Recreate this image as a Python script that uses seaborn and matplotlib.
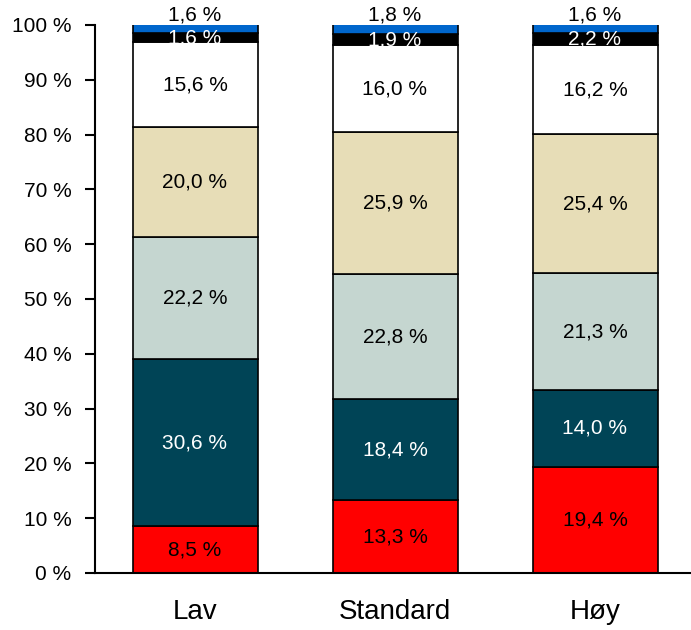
import matplotlib
matplotlib.use('Agg')
import matplotlib.pyplot as plt
import seaborn as sns
import numpy as np

# ── Data (bottom → top) ─────────────────────────────────────────────
categories = ['Lav', 'Standard', 'Høy']
seg_red    = [8.5, 13.3, 19.4]
seg_teal   = [30.6, 18.4, 14.0]
seg_grey   = [22.2, 22.8, 21.3]
seg_beige  = [20.0, 25.9, 25.4]
seg_white  = [15.6, 16.0, 16.2]
seg_black  = [1.6, 1.9, 2.2]
seg_blue   = [1.6, 1.8, 1.6]
y_ticks    = [0, 10, 20, 30, 40, 50, 60, 70, 80, 90, 100]

segments = [seg_red, seg_teal, seg_grey, seg_beige, seg_white, seg_black, seg_blue]
colors   = ['#FF0000', '#004456', '#C5D6D0', '#E7DDB7', '#FFFFFF', '#000000', '#0066CC']
txt_col  = ['black', 'white', 'black', 'black', 'black', 'white', 'black']

sns.set_style('white')
plt.rcParams['font.family'] = ['Liberation Sans', 'DejaVu Sans']
plt.rcParams['text.color'] = 'black'
plt.rcParams['xtick.color'] = 'black'
plt.rcParams['ytick.color'] = 'black'

fig = plt.figure(figsize=(6.91, 6.3), dpi=100)
ax = fig.add_axes([95 / 691, 57 / 630, 600 / 691, 548 / 630])

bottom = np.zeros(len(categories))
for vals, col, tc in zip(segments, colors, txt_col):
    sns.barplot(x=categories, y=vals, bottom=bottom, color=col, width=0.625,
                edgecolor='black', linewidth=1.2, saturation=1, ax=ax)
    for i, v in enumerate(vals):
        lab = f"{v:.1f} %".replace('.', ',')
        if col == '#0066CC':
            ax.text(i, 101.9, lab, ha='center', va='center', fontsize=15, color=tc)
        else:
            ax.text(i, bottom[i] + v / 2, lab, ha='center', va='center', fontsize=15, color=tc)
    bottom += np.array(vals)

ax.set_xlim(-0.5, 2.5)
ax.set_ylim(0, 100)
ax.set_yticks(y_ticks)
ax.set_yticklabels([f"{t} %" for t in y_ticks], fontsize=15)
ax.set_xticks([0, 1, 2])
ax.set_xticklabels(categories, fontsize=20)
ax.set_xticks([-0.5, 0.5, 1.5, 2.5], minor=True)
ax.tick_params(axis='x', which='major', length=0, pad=19)
ax.tick_params(axis='x', which='minor', length=8, width=1.5, color='black', direction='out')
ax.tick_params(axis='y', length=7, width=1.5, color='black', direction='out', left=True, pad=10)
for s in ['top', 'right']:
    ax.spines[s].set_visible(False)
for s in ['left', 'bottom']:
    ax.spines[s].set_color('black')
    ax.spines[s].set_linewidth(1.5)
ax.set_xlabel('')
ax.set_ylabel('')

fig.savefig('out.png', dpi=100)
